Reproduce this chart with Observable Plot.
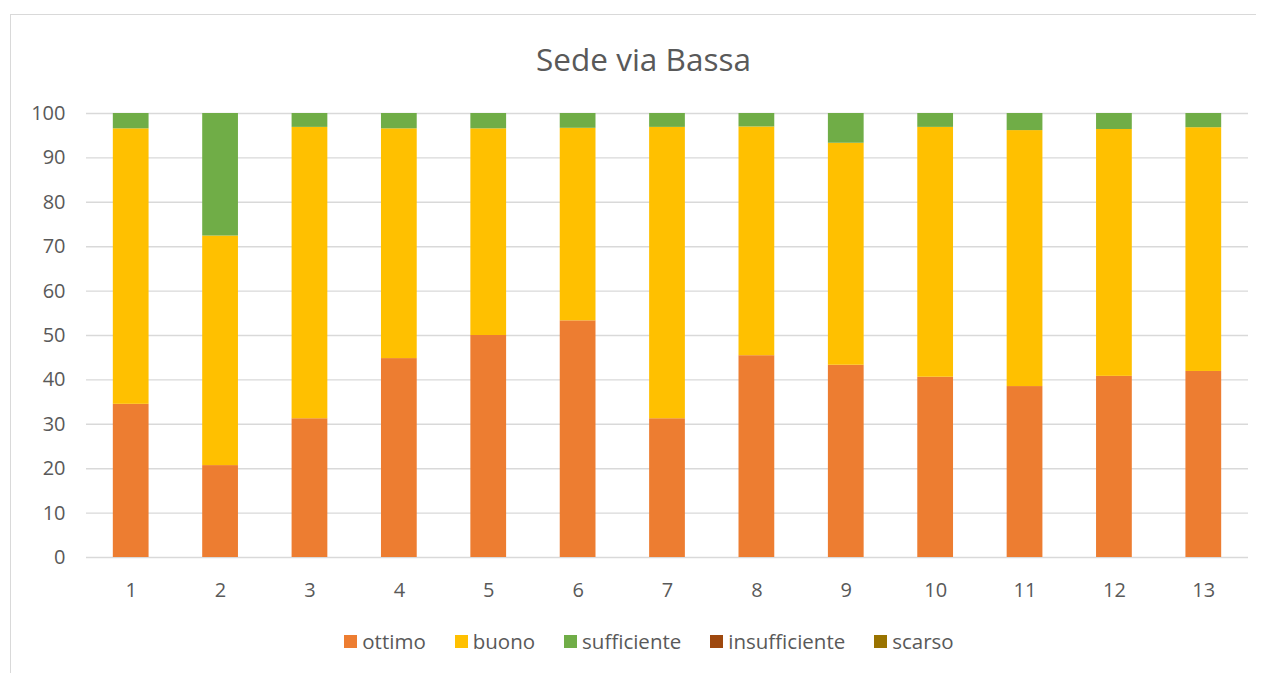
<!DOCTYPE html>
<html>
<head>
<meta charset="utf-8">
<script src="https://cdn.jsdelivr.net/npm/d3@7"></script>
<script src="https://cdn.jsdelivr.net/npm/@observablehq/plot@0.6"></script>
<style>
  html, body { margin: 0; padding: 0; background: #fff; }
  body { width: 1266px; height: 673px; position: relative; overflow: hidden; font-family: "Open Sans", Lato, sans-serif; color: #595959; }
  #frame { position: absolute; left: 10px; top: 14px; width: 1246px; height: 700px; border-left: 1.5px solid #d9d9d9; border-top: 1.5px solid #d9d9d9; box-sizing: border-box; }
  #title { position: absolute; left: 0; top: 38px; width: 1287px; text-align: center; font-size: 31.5px; line-height: 42px; color: #595959; }
  #chart { position: absolute; left: 0; top: 0; }
  #legend { position: absolute; left: 0; top: 628px; width: 1298px; display: flex; justify-content: center; gap: 29px; font-size: 20.5px; line-height: 26px; color: #595959; }
  .item { display: flex; align-items: center; gap: 5px; }
  .sw { width: 13px; height: 13px; display: inline-block; }
</style>
</head>
<body>
<div id="frame"></div>
<div id="chart"></div>
<div id="title">Sede via Bassa</div>
<div id="legend"></div>
<script>
const categories = ["1","2","3","4","5","6","7","8","9","10","11","12","13"];
const seriesNames = ["ottimo","buono","sufficiente","insufficiente","scarso"];
const seriesColors = ["#ED7D31","#FFC000","#70AD47","#9E480E","#997300"];
const ottimo        = [34.5, 20.7, 31.25, 44.8, 50.0, 53.3, 31.25, 45.45, 43.3, 40.6, 38.5, 40.8, 41.9];
const buono         = [62.05, 51.7, 65.625, 51.75, 46.55, 43.37, 65.625, 51.52, 50.0, 56.275, 57.65, 55.6, 54.9];
const sufficiente   = [3.45, 27.6, 3.125, 3.45, 3.45, 3.33, 3.125, 3.03, 6.7, 3.125, 3.85, 3.6, 3.2];
const insufficiente = [0, 0, 0, 0, 0, 0, 0, 0, 0, 0, 0, 0, 0];
const scarso        = [0, 0, 0, 0, 0, 0, 0, 0, 0, 0, 0, 0, 0];
const yTicks = [0, 10, 20, 30, 40, 50, 60, 70, 80, 90, 100];

const seriesValues = [ottimo, buono, sufficiente, insufficiente, scarso];
const rows = [];
seriesNames.forEach((s, si) => {
  categories.forEach((c, ci) => rows.push({cat: c, serie: s, value: seriesValues[si][ci]}));
});

const chart = Plot.plot({
  width: 1266,
  height: 673,
  marginTop: 113,
  marginBottom: 116,
  marginLeft: 86,
  marginRight: 18,
  style: {fontFamily: "'Open Sans', Lato, sans-serif", fontSize: "20px", color: "#595959", background: "transparent"},
  x: {domain: categories, paddingInner: 0.6, paddingOuter: 0.3, round: false, label: null},
  y: {domain: [0, 100], label: null},
  color: {domain: seriesNames, range: seriesColors},
  marks: [
    Plot.gridY(yTicks, {stroke: "#d9d9d9", strokeOpacity: 1, strokeWidth: 1.4}),
    Plot.barY(rows, {x: "cat", y: "value", fill: "serie", order: seriesNames}),
    Plot.axisY(yTicks, {tickSize: 0, tickPadding: 21, fill: "#595959", fontSize: 20, label: null}),
    Plot.axisX({tickSize: 0, tickPadding: 25, fill: "#595959", fontSize: 20, label: null})
  ]
});
document.getElementById("chart").appendChild(chart);

const legend = document.getElementById("legend");
seriesNames.forEach((s, i) => {
  const it = document.createElement("div");
  it.className = "item";
  const sw = document.createElement("span");
  sw.className = "sw";
  sw.style.background = seriesColors[i];
  const tx = document.createElement("span");
  tx.textContent = s;
  it.appendChild(sw);
  it.appendChild(tx);
  legend.appendChild(it);
});
</script>
</body>
</html>
